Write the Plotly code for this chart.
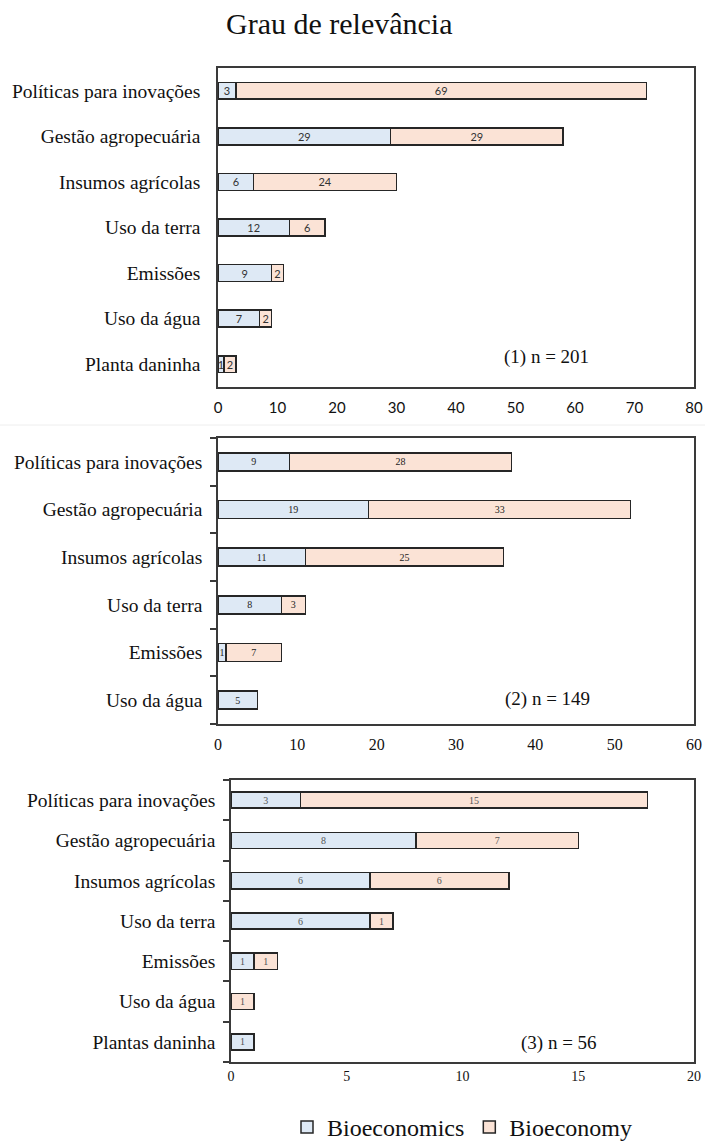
import plotly.graph_objects as go

# Categories (top to bottom) and counts per panel
cats1 = ["Políticas para inovações", "Gestão agropecuária", "Insumos agrícolas",
         "Uso da terra", "Emissões", "Uso da água", "Planta daninha"]
bioeconomics1 = [3, 29, 6, 12, 9, 7, 1]
bioeconomy1 = [69, 29, 24, 6, 2, 2, 2]

cats2 = ["Políticas para inovações", "Gestão agropecuária", "Insumos agrícolas",
         "Uso da terra", "Emissões", "Uso da água"]
bioeconomics2 = [9, 19, 11, 8, 1, 5]
bioeconomy2 = [28, 33, 25, 3, 7, None]

cats3 = ["Políticas para inovações", "Gestão agropecuária", "Insumos agrícolas",
         "Uso da terra", "Emissões", "Uso da água", "Plantas daninha"]
bioeconomics3 = [3, 8, 6, 6, 1, None, 1]
bioeconomy3 = [15, 7, 6, 1, 1, 1, None]

panel_notes = ["(1) n = 201", "(2) n = 149", "(3) n = 56"]
x_ticks1 = [0, 10, 20, 30, 40, 50, 60, 70, 80]
x_ticks2 = [0, 10, 20, 30, 40, 50, 60]
x_ticks3 = [0, 5, 10, 15, 20]

series_names = ["Bioeconomics", "Bioeconomy"]
BLUE = "#DEE9F5"
PEACH = "#FBE3D6"
EDGE = "#262626"
SERIF = "Liberation Serif"
SANS = "Lato"

W, H = 705, 1142

def py(px):
    return 1 - px / H

panels = [
    dict(cats=cats1, a=bioeconomics1, b=bioeconomy1, ticks=x_ticks1,
         xd=[218 / W, 694 / W], yd=[py(387), py(68)], tickfont=SANS, ticksize=15,
         tickstand=6, txtfont=SANS, txtcolor="#333333", txtsize=11, width=0.37,
         yticks=False, note=panel_notes[0], note_xy=(546, 357)),
    dict(cats=cats2, a=bioeconomics2, b=bioeconomy2, ticks=x_ticks2,
         xd=[218 / W, 694 / W], yd=[py(724), py(438)], tickfont=SERIF, ticksize=16,
         tickstand=5, txtfont=SERIF, txtcolor="#222222", txtsize=10, width=0.38,
         yticks=True, note=panel_notes[1], note_xy=(547, 699)),
    dict(cats=cats3, a=bioeconomics3, b=bioeconomy3, ticks=x_ticks3,
         xd=[231 / W, 694 / W], yd=[py(1062), py(780)], tickfont=SERIF, ticksize=14,
         tickstand=0, txtfont=SERIF, txtcolor="#555555", txtsize=10, width=0.40,
         yticks=True, note=panel_notes[2], note_xy=(559, 1043)),
]

fig = go.Figure()
layout_axes = {}
annotations = []

for i, p in enumerate(panels, start=1):
    xa = "x" if i == 1 else f"x{i}"
    ya = "y" if i == 1 else f"y{i}"
    for name, vals, color in [(series_names[0], p["a"], BLUE),
                              (series_names[1], p["b"], PEACH)]:
        fig.add_trace(go.Bar(
            y=p["cats"], x=vals, orientation="h", name=name,
            marker=dict(color=color, line=dict(color=EDGE, width=1.5)),
            width=p["width"],
            text=[("" if v is None else str(v)) for v in vals],
            textposition="inside", insidetextanchor="middle",
            textangle=0, constraintext="none",
            textfont=dict(family=p["txtfont"], size=p["txtsize"], color=p["txtcolor"]),
            xaxis=xa, yaxis=ya, showlegend=(i == 3),
            legendgroup=name, hoverinfo="skip",
        ))
    xkey = "xaxis" if i == 1 else f"xaxis{i}"
    ykey = "yaxis" if i == 1 else f"yaxis{i}"
    n = len(p["cats"])
    layout_axes[xkey] = dict(
        domain=p["xd"], anchor=ya, range=[p["ticks"][0], p["ticks"][-1]],
        tickvals=p["ticks"], showgrid=False, zeroline=False,
        showline=True, mirror=True, linecolor="#3a3a3a", linewidth=1.5,
        ticks="", ticklabelstandoff=p["tickstand"],
        tickfont=dict(family=p["tickfont"], size=p["ticksize"], color="#111111"),
        fixedrange=True,
    )
    ydict = dict(
        domain=p["yd"], anchor=xa, type="category",
        categoryorder="array", categoryarray=list(reversed(p["cats"])),
        range=[-0.5, n - 0.5], showgrid=False, zeroline=False,
        showline=True, mirror=True, linecolor="#3a3a3a", linewidth=1.5,
        tickfont=dict(family=SERIF, size=19.5, color="#111111"),
        ticklabelstandoff=12, fixedrange=True,
    )
    if p["yticks"]:
        ydict.update(ticks="outside", tickson="boundaries", ticklen=6,
                     tickcolor="#3a3a3a", tickwidth=1.5, ticklabelstandoff=10)
    else:
        ydict.update(ticks="")
    layout_axes[ykey] = ydict
    nx, ny = p["note_xy"]
    annotations.append(dict(
        text=p["note"], x=nx / W, y=py(ny), xref="paper", yref="paper",
        xanchor="center", yanchor="middle", showarrow=False,
        font=dict(family=SERIF, size=19, color="#111111"),
    ))

annotations.append(dict(
    text="Grau de relevância", x=339 / W, y=py(23), xref="paper", yref="paper",
    xanchor="center", yanchor="middle", showarrow=False,
    font=dict(family=SERIF, size=30, color="#111111"),
))

fig.update_layout(
    width=W, height=H,
    margin=dict(l=0, r=0, t=0, b=0, autoexpand=False),
    paper_bgcolor="white", plot_bgcolor="white",
    barmode="stack", bargap=0.6,
    annotations=annotations,
    shapes=[dict(type="line", xref="paper", yref="paper", x0=0, x1=1,
                 y0=py(425), y1=py(425), line=dict(color="#eeeeee", width=1))],
    legend=dict(orientation="h", x=462 / W, y=py(1105), xanchor="center",
                yanchor="top", font=dict(family=SERIF, size=24, color="#111111"),
                itemwidth=30, tracegroupgap=0, bgcolor="rgba(0,0,0,0)"),
    **layout_axes,
)

fig.write_html("out.html")
